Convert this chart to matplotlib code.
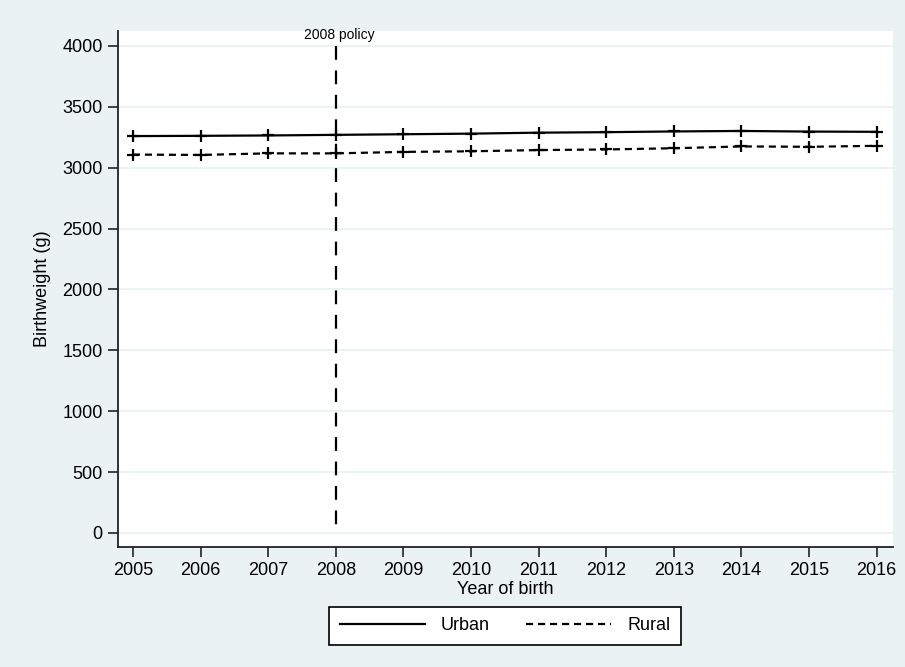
import matplotlib
matplotlib.use('Agg')
import matplotlib.pyplot as plt

plt.rcParams['font.family'] = ['Liberation Sans', 'DejaVu Sans']

years = [2005, 2006, 2007, 2008, 2009, 2010, 2011, 2012, 2013, 2014, 2015, 2016]
urban = [3260, 3262, 3265, 3270, 3275, 3280, 3288, 3292, 3298, 3302, 3297, 3295]
rural = [3108, 3105, 3118, 3118, 3130, 3135, 3145, 3150, 3160, 3175, 3172, 3180]
policy_year = 2008
yticks = list(range(0, 4001, 500))

bg = '#EAF2F3'
fig = plt.figure(figsize=(9.05, 6.67), dpi=100, facecolor=bg)
ax = fig.add_axes([0.1304, 0.180, 0.8563, 0.7735])
ax.set_facecolor('white')

ax.plot(years, urban, color='black', lw=1.6, marker='+', ms=9, mew=1.6, label='Urban')
ax.plot(years, rural, color='black', lw=1.6, ls=(0, (3.2, 2.2)), marker='+', ms=9, mew=1.6,
        label='Rural')

# policy line, drawn top-down so the dash pattern starts at 4000
ax.plot([policy_year, policy_year], [4000, 0], color='black', ls=(0, (6.2, 4.8)), lw=1.6)
ax.text(policy_year + 0.05, 4035, '2008 policy', ha='center', va='bottom', fontsize=10)

ax.set_xlim(2004.78, 2016.24)
ax.set_ylim(-115, 4123)
ax.set_xticks(years)
ax.set_yticks(yticks)
ax.yaxis.grid(True, color=bg, lw=1.3)
ax.set_axisbelow(True)
for s in ['top', 'right']:
    ax.spines[s].set_visible(False)
for s in ['left', 'bottom']:
    ax.spines[s].set_color('#222222')
    ax.spines[s].set_linewidth(1.3)
ax.tick_params(axis='both', labelsize=13, length=7, width=1.2, color='#222222')
ax.tick_params(axis='y', pad=4)

ax.set_xlabel('Year of birth', fontsize=13, labelpad=2)
ax.set_ylabel('Birthweight (g)', fontsize=13, labelpad=8)

leg = fig.legend(loc='center', bbox_to_anchor=(0.558, 0.0615), ncol=2, fontsize=13,
                 handlelength=4.7, columnspacing=2.0, handletextpad=0.9,
                 frameon=True, fancybox=False, edgecolor='black', facecolor='white',
                 framealpha=1, borderpad=0.6, borderaxespad=0)
leg.get_frame().set_linewidth(1.2)
for h in leg.legend_handles:
    h.set_marker('')

fig.savefig('out.png', dpi=100, facecolor=bg)
